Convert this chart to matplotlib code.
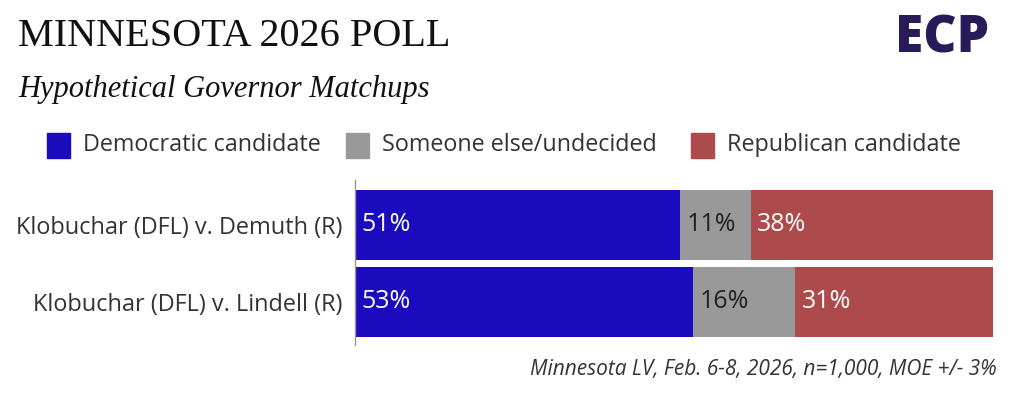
import numpy as np
import matplotlib.pyplot as plt

# data
matchups = ["Klobuchar (DFL) v. Demuth (R)", "Klobuchar (DFL) v. Lindell (R)"]
dem = [51, 53]
other = [11, 16]
rep = [38, 31]
series_names = ["Democratic candidate", "Someone else/undecided", "Republican candidate"]

colors = ["#1a0bbf", "#999999", "#ad4a4b"]
label_colors = ["white", "#222222", "white"]
sans = ["Open Sans", "DejaVu Sans"]
serif = ["Liberation Serif", "DejaVu Serif"]

fig = plt.figure(figsize=(10.24, 3.93), dpi=100)
ax = fig.add_axes([355 / 1024, 1 - 345 / 393, 638 / 1024, 165 / 393])

y = np.arange(len(matchups))
left = np.zeros(len(matchups))
for vals, col, lc in zip([dem, other, rep], colors, label_colors):
    vals = np.array(vals)
    ax.barh(y, vals, left=left, height=0.91, color=col)
    for yi, l, v in zip(y, left, vals):
        ax.text(l + 1.0, yi, "%d%%" % v, color=lc, fontsize=18,
                family=sans, va="center", ha="left")
    left = left + vals

ax.set_xlim(0, 100)
ax.set_ylim(1.56, -0.58)
ax.set_yticks(y)
ax.set_yticklabels(matchups, fontsize=16.9, family=sans, color="#333333")
ax.tick_params(axis="y", length=0, pad=9)
ax.set_xticks([])
for s in ["top", "right", "bottom"]:
    ax.spines[s].set_visible(False)
ax.spines["left"].set_color("#999999")
ax.spines["left"].set_linewidth(1)

# titles
fig.text(18 / 1024, 1 - 36 / 393, "MINNESOTA 2026 POLL", family=serif,
         fontsize=29, va="center", ha="left", color="#111111")
fig.text(18 / 1024, 1 - 90 / 393, "Hypothetical Governor Matchups", family=serif,
         style="italic", fontsize=22, va="center", ha="left", color="#111111")

# logo
fig.text(895 / 1024, 1 - 39 / 393, "ECP", family=sans, weight="heavy",
         fontsize=37, va="center", ha="left", color="#2b1a5a")

# legend
leg_x = [47, 346, 691]
for xx, name, col in zip(leg_x, series_names, colors):
    fig.patches.append(plt.Rectangle((xx / 1024, 1 - 158 / 393), 23 / 1024, 25 / 393,
                                     transform=fig.transFigure, color=col))
    fig.text((xx + 36) / 1024, 1 - 145 / 393, name, family=sans, fontsize=16.8,
             va="center", ha="left", color="#333333")

# footnote
fig.text(997 / 1024, 1 - 370 / 393, "Minnesota LV, Feb. 6-8, 2026, n=1,000, MOE +/- 3%",
         family=sans, style="italic", fontsize=15, va="center", ha="right",
         color="#333333")

plt.savefig("out.png", dpi=100)
